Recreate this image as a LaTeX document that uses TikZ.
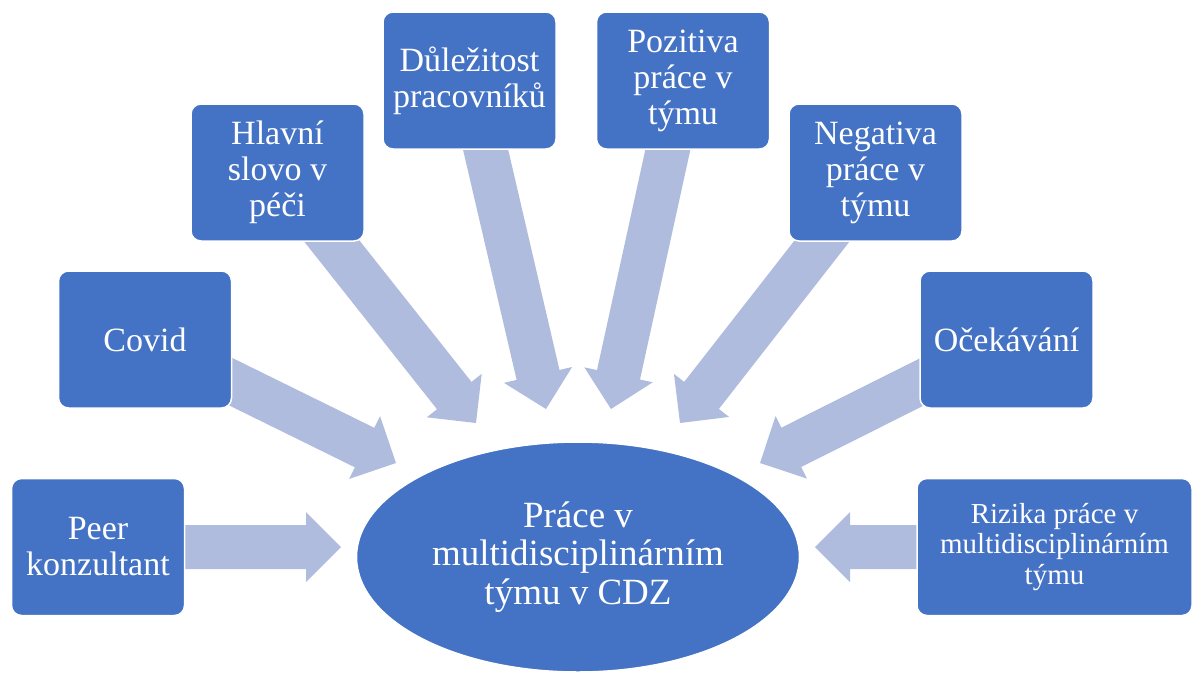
\documentclass[tikz,border=0pt]{standalone}
\usepackage{fontspec}
\setmainfont{Liberation Serif}
\usetikzlibrary{calc,shapes.geometric,backgrounds}
\definecolor{boxblue}{RGB}{68,114,196}
\definecolor{arrowblue}{RGB}{176,188,222}
\tikzset{
  topic/.style={draw=white, line width=1.5pt, fill=boxblue, rounded corners=10pt,
    minimum width=173pt, minimum height=137pt, inner sep=2pt, text=white,
    align=center, font=\fontsize{34}{36}\selectfont},
  widetopic/.style={topic, minimum width=275pt, font=\fontsize{29}{30.5}\selectfont},
  hub/.style={ellipse, draw=white, line width=1.5pt, fill=boxblue,
    minimum width=443pt, minimum height=230pt, inner sep=0pt, text=white,
    align=center, font=\fontsize{37}{38.5}\selectfont},
  blockarrow/.style={fill=arrowblue}
}
% block arrow from #1 (start, hidden under its box) to tip #2
\newcommand\drawblockarrow[2]{%
  \coordinate (hb) at ($(#2)!35pt!(#1)$);
  \fill[blockarrow] ($(#1)!22pt!90:(#2)$) -- ($(hb)!22pt!90:(#2)$)
    -- ($(hb)!35pt!90:(#2)$) -- (#2) -- ($(hb)!35pt!-90:(#2)$)
    -- ($(hb)!22pt!-90:(#2)$) -- ($(#1)!22pt!-90:(#2)$) -- cycle;
}
\begin{document}
\begin{tikzpicture}[x=1pt,y=-1pt]
\useasboundingbox (0,0) rectangle (1196,673);

% central topic
\node[hub] (center) at (578,557) {Práce v\\multidisciplinárním\\týmu v CDZ};

% surrounding topics
\node[topic] (peer) at (98,547) {Peer\\konzultant};
\node[topic] (covid) at (145,339.5) {Covid};
\node[topic] (hlavni) at (277.5,172.5) {Hlavní\\slovo v\\péči};
\node[topic] (dulez) at (469.5,80.5) {Důležitost\\pracovníků};
\node[topic] (pozit) at (683,80.5) {Pozitiva\\práce v\\týmu};
\node[topic] (negat) at (875.5,172.5) {Negativa\\práce v\\týmu};
\node[topic] (ocek) at (1006.5,339.5) {Očekávání};
\node[widetopic] (rizika) at (1054.5,547) {Rizika práce v\\multidisciplinárním\\týmu};

% arrow tips around the central topic
\coordinate (tPeer) at (341,547);
\coordinate (tCovid) at (396,463);
\coordinate (tHlavni) at (476,423);
\coordinate (tDulez) at (546,409);
\coordinate (tPozit) at (611,409);
\coordinate (tNegat) at (680,423);
\coordinate (tOcek) at (760,463);
\coordinate (tRizika) at (815,547);

\begin{scope}[on background layer]
  \drawblockarrow{peer}{tPeer}
  \drawblockarrow{covid}{tCovid}
  \drawblockarrow{hlavni}{tHlavni}
  \drawblockarrow{dulez}{tDulez}
  \drawblockarrow{pozit}{tPozit}
  \drawblockarrow{negat}{tNegat}
  \drawblockarrow{ocek}{tOcek}
  \drawblockarrow{rizika}{tRizika}
\end{scope}
\end{tikzpicture}
\end{document}
